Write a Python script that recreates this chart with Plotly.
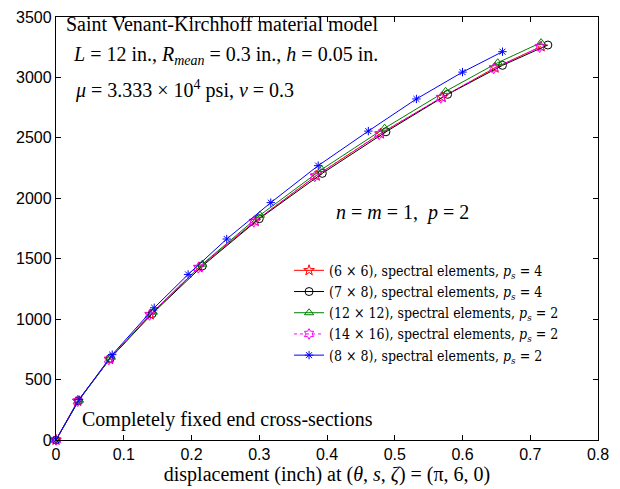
import plotly.graph_objects as go

# Data
x_6x6 = [0, 0.032, 0.079, 0.139, 0.211, 0.294, 0.384, 0.479, 0.570, 0.648, 0.716]
y_6x6 = [0, 322, 668, 1038, 1428, 1810, 2186, 2535, 2836, 3080, 3256]

x_7x8 = [0, 0.033, 0.080, 0.142, 0.216, 0.300, 0.393, 0.487, 0.578, 0.659, 0.726]
y_7x8 = [0, 325, 675, 1045, 1440, 1831, 2206, 2550, 2860, 3100, 3268]

x_12x12 = [0, 0.034, 0.081, 0.143, 0.216, 0.301, 0.392, 0.485, 0.575, 0.652, 0.716]
y_12x12 = [0, 330, 685, 1058, 1455, 1860, 2238, 2580, 2885, 3122, 3288]

x_14x16 = [0, 0.032, 0.078, 0.138, 0.210, 0.292, 0.382, 0.477, 0.568, 0.646, 0.714]
y_14x16 = [0, 320, 665, 1034, 1424, 1804, 2180, 2529, 2830, 3074, 3250]

x_8x8 = [0, 0.034, 0.083, 0.145, 0.195, 0.252, 0.317, 0.387, 0.461, 0.532, 0.600, 0.659]
y_8x8 = [0, 334, 706, 1094, 1370, 1663, 1964, 2270, 2556, 2822, 3044, 3213]

x_ticks = [0, 0.1, 0.2, 0.3, 0.4, 0.5, 0.6, 0.7, 0.8]
y_ticks = [0, 500, 1000, 1500, 2000, 2500, 3000, 3500]

SERIF = "Liberation Serif"
SANS = "Liberation Sans"

series = [
    (x_6x6, y_6x6, "(6 × 6), spectral elements, <i>p<sub>s</sub></i> = 4", "red", "star-open", "solid", 8),
    (x_7x8, y_7x8, "(7 × 8), spectral elements, <i>p<sub>s</sub></i> = 4", "black", "circle-open", "solid", 8),
    (x_12x12, y_12x12, "(12 × 12), spectral elements, <i>p<sub>s</sub></i> = 2", "#008000", "triangle-up-open", "solid", 8),
    (x_14x16, y_14x16, "(14 × 16), spectral elements, <i>p<sub>s</sub></i> = 2", "magenta", "hexagram-open", "dot", 8),
    (x_8x8, y_8x8, "(8 × 8), spectral elements, <i>p<sub>s</sub></i> = 2", "blue", "asterisk-open", "solid", 7),
]

fig = go.Figure()
for xs, ys, name, col, sym, dash, ms in series:
    fig.add_trace(go.Scatter(
        x=xs, y=ys, name=name, mode="lines+markers",
        line=dict(color=col, width=1, dash=dash),
        marker=dict(symbol=sym, size=ms, color=col, line=dict(color=col, width=1)),
        cliponaxis=False,
    ))

axis_common = dict(
    showgrid=False, zeroline=False, showline=True, linecolor="black", linewidth=1.3,
    mirror="ticks", ticks="inside", ticklen=5, tickwidth=1, tickcolor="black",
    tickfont=dict(family=SANS, size=16, color="black"),
)

fig.update_xaxes(range=[0, 0.8], tickvals=x_ticks, ticktext=[("%g" % v) for v in x_ticks],
                 title=dict(text="displacement (inch) at (<i>θ</i>, <i>s</i>, <i>ζ</i>) = (π, 6, 0)",
                            font=dict(family=SERIF, size=20, color="black"), standoff=0),
                 **axis_common)
fig.update_yaxes(range=[0, 3500], tickvals=y_ticks, ticktext=[str(v) for v in y_ticks],
                 ticklabelstandoff=0, **axis_common)

annots = [
    (0.012, 3440, "Saint Venant-Kirchhoff material model"),
    (0.022, 3180, "<i>L</i> = 12 in., <i>R<sub>mean</sub></i> = 0.3 in., <i>h</i> = 0.05 in."),
    (0.025, 2900, "<i>μ</i> = 3.333 × 10<sup>4</sup> psi, <i>ν</i> = 0.3"),
    (0.41, 1880, "<i>n</i> = <i>m</i> = 1,  <i>p</i> = 2"),
    (0.035, 170, "Completely fixed end cross-sections"),
]
for ax, ay, txt in annots:
    fig.add_annotation(x=ax, y=ay, xref="x", yref="y", text=txt, showarrow=False,
                       xanchor="left", yanchor="middle",
                       font=dict(family=SERIF, size=20, color="black"))

fig.update_layout(
    width=620, height=489,
    margin=dict(l=56, r=22, t=9, b=49),
    paper_bgcolor="white", plot_bgcolor="white",
    legend=dict(x=0.43, y=0.438, xanchor="left", yanchor="top",
                bgcolor="rgba(0,0,0,0)", borderwidth=0,
                font=dict(family="DejaVu Serif Condensed", size=14, color="black"),
                tracegroupgap=0, itemwidth=30),
)

fig.write_html("out.html")
